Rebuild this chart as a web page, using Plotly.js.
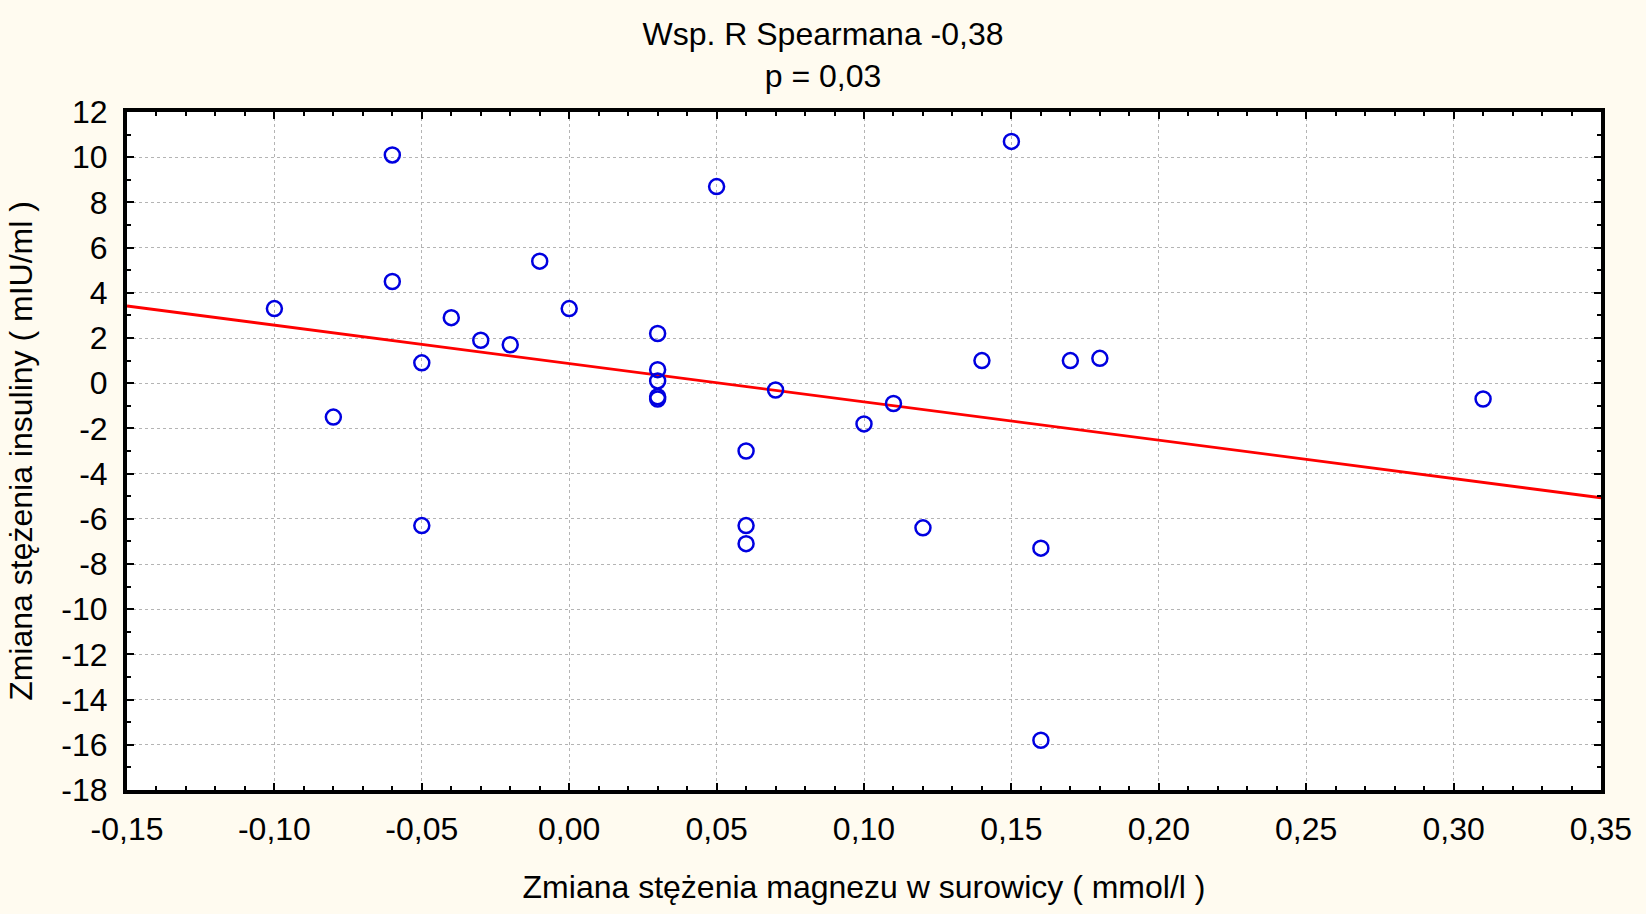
<!DOCTYPE html>
<html>
<head>
<meta charset="utf-8">
<script src="https://cdn.plot.ly/plotly-3.0.1.min.js"></script>
<style>html,body{margin:0;padding:0;background:#fffbf0;}#chart{width:1646px;height:914px;}</style>
</head>
<body>
<div id="chart"></div>
<script>
// Data
const magnesiumChange = [-0.10, -0.06, -0.06, -0.08, -0.05, -0.05, -0.04, -0.03, -0.02, -0.01, 0.00,
  0.03, 0.03, 0.03, 0.03, 0.03, 0.05, 0.06, 0.06, 0.06, 0.07, 0.10, 0.11, 0.12, 0.14, 0.15,
  0.16, 0.16, 0.17, 0.18, 0.31];
const insulinChange = [3.3, 10.1, 4.5, -1.5, 0.9, -6.3, 2.9, 1.9, 1.7, 5.4, 3.3,
  2.2, 0.6, 0.1, -0.6, -0.7, 8.7, -3.0, -6.3, -7.1, -0.3, -1.8, -0.9, -6.4, 1.0, 10.7,
  -7.3, -15.8, 1.0, 1.1, -0.7];
const xTickVals = [-0.15, -0.10, -0.05, 0.00, 0.05, 0.10, 0.15, 0.20, 0.25, 0.30, 0.35];
const yTickVals = [12, 10, 8, 6, 4, 2, 0, -2, -4, -6, -8, -10, -12, -14, -16, -18];
const xRange = [-0.15, 0.35];
const yRange = [-18, 12];
const titleText = 'Wsp. R Spearmana -0,38<br>p = 0,03';
const xTitle = 'Zmiana stężenia magnezu w surowicy ( mmol/l )';
const yTitle = 'Zmiana stężenia insuliny ( mIU/ml )';

// least-squares fit line from the data
const n = magnesiumChange.length;
const mx = magnesiumChange.reduce((a, b) => a + b, 0) / n;
const my = insulinChange.reduce((a, b) => a + b, 0) / n;
let sxy = 0, sxx = 0;
for (let i = 0; i < n; i++) {
  sxy += (magnesiumChange[i] - mx) * (insulinChange[i] - my);
  sxx += (magnesiumChange[i] - mx) ** 2;
}
const slope = sxy / sxx;
const intercept = my - slope * mx;
const fitX = xRange.slice();
const fitY = fitX.map(x => intercept + slope * x);

const fmtX = v => v.toFixed(2).replace('.', ',');
const fmtY = v => String(v);

const FONT = 'Liberation Sans, Arial, sans-serif';
const fs = 32;

const traces = [
  {x: fitX, y: fitY, mode: 'lines', type: 'scatter', line: {color: '#ff0000', width: 2.8}, hoverinfo: 'skip'},
  {x: magnesiumChange, y: insulinChange, mode: 'markers', type: 'scatter',
   marker: {symbol: 'circle-open', size: 15, color: '#0000e0', line: {width: 2.5, color: '#0000e0'}}}
];

const axisCommon = {
  showline: true, linecolor: '#000', linewidth: 4, mirror: 'ticks',
  ticks: 'inside', ticklen: 7, tickwidth: 2, tickcolor: '#000',
  showgrid: true, gridcolor: '#b4b4b4', gridwidth: 1, griddash: 'dot',
  zeroline: false, tickfont: {family: FONT, size: fs, color: '#000'},
  tickmode: 'array'
};

const layout = {
  width: 1646, height: 914,
  paper_bgcolor: '#fffbf0', plot_bgcolor: '#ffffff',
  showlegend: false,
  margin: {l: 127, r: 45, t: 112, b: 124},
  font: {family: FONT, size: fs, color: '#000'},
  title: {text: titleText, x: 0.5, xref: 'container', xanchor: 'center',
          y: 1 - 45 / 914, yref: 'container', yanchor: 'middle',
          font: {family: FONT, size: fs, color: '#000'}},
  xaxis: Object.assign({}, axisCommon, {
    range: xRange, tickvals: xTickVals, ticktext: xTickVals.map(fmtX),
    ticklabelstandoff: 8,
    minor: {tickmode: 'linear', tick0: -0.15, dtick: 0.01, ticks: 'inside', ticklen: 4, tickwidth: 2, tickcolor: '#000', showgrid: false},
    title: {text: xTitle, font: {family: FONT, size: fs, color: '#000'}, standoff: 30}
  }),
  yaxis: Object.assign({}, axisCommon, {
    range: yRange, tickvals: yTickVals, ticktext: yTickVals.map(fmtY),
    ticklabelstandoff: 9,
    minor: {tickmode: 'linear', tick0: 0, dtick: 1, ticks: 'inside', ticklen: 4, tickwidth: 2, tickcolor: '#000', showgrid: false},
    title: {text: yTitle, font: {family: FONT, size: fs, color: '#000'}, standoff: 20}
  })
};

Plotly.newPlot('chart', traces, layout, {displayModeBar: false, staticPlot: true});
</script>
</body>
</html>
